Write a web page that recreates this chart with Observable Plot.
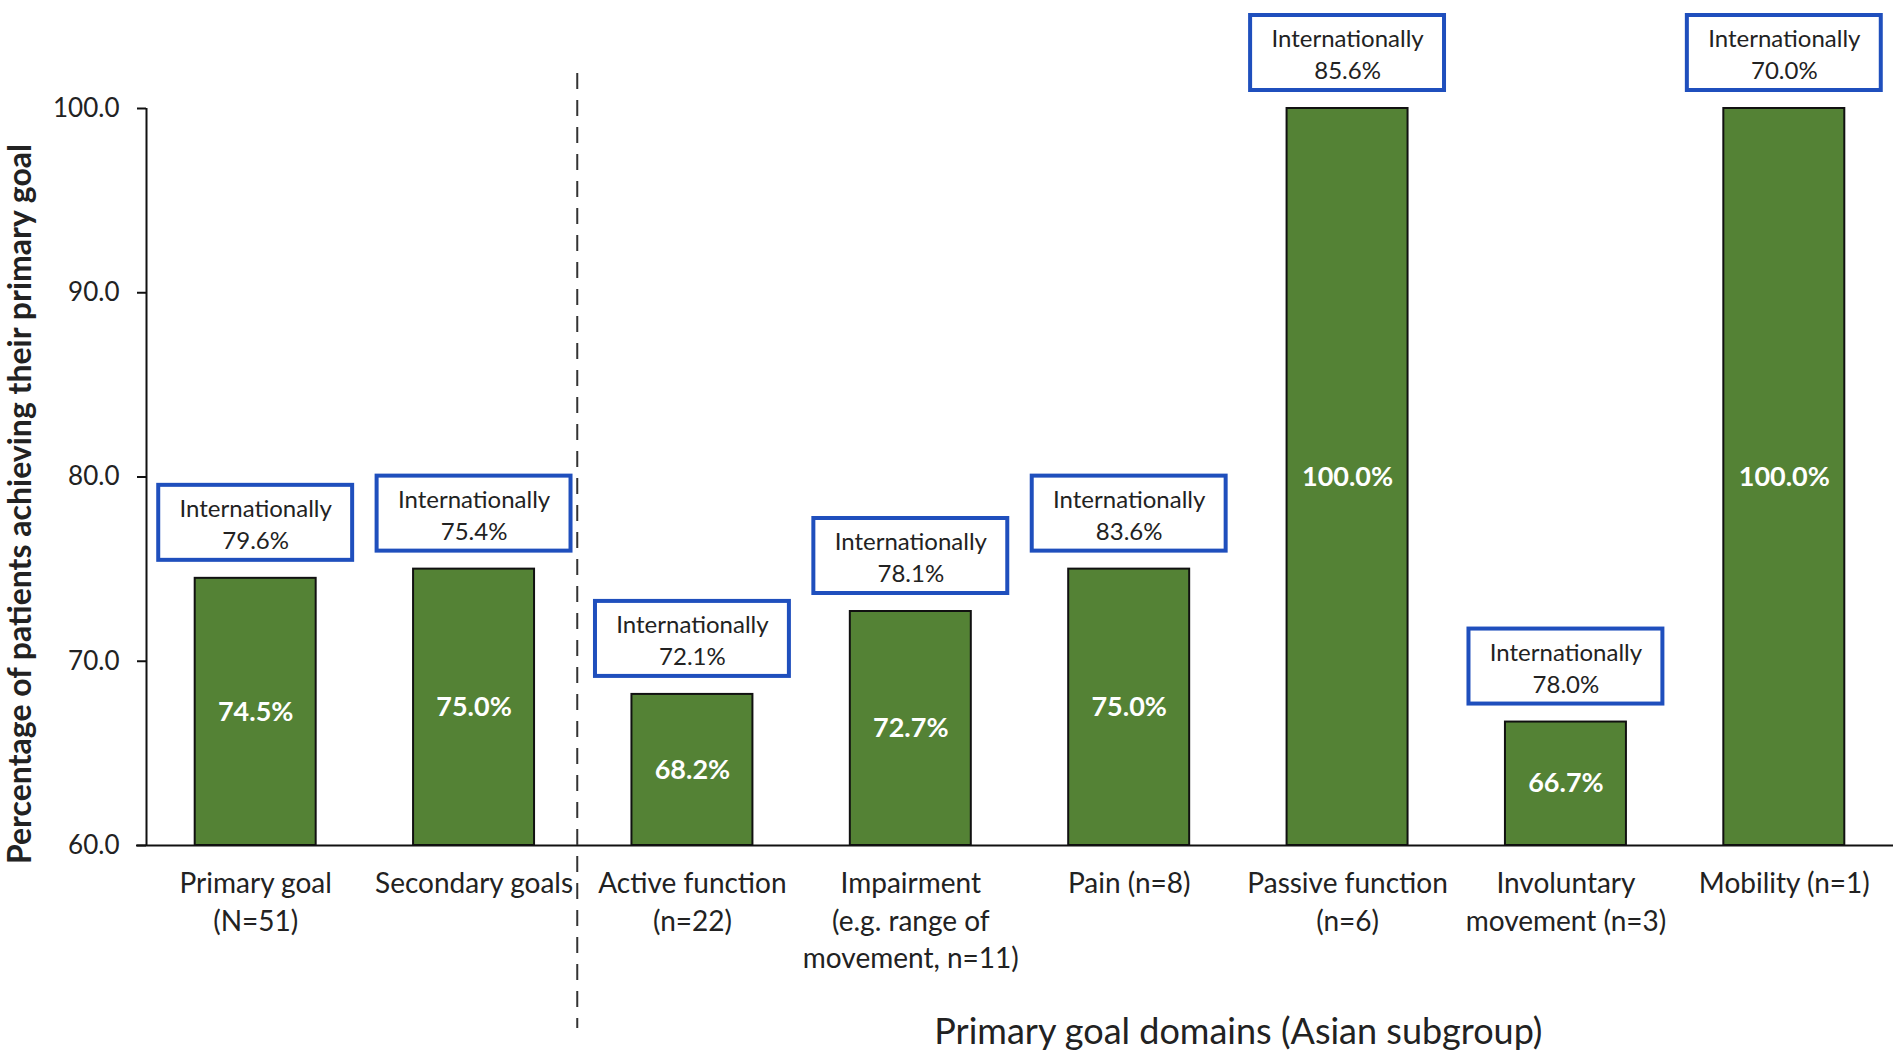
<!DOCTYPE html>
<html>
<head>
<meta charset="utf-8">
<script src="https://cdn.jsdelivr.net/npm/d3@7"></script>
<script src="https://cdn.jsdelivr.net/npm/@observablehq/plot@0.6"></script>
<style>
  html, body { margin: 0; padding: 0; background: #fff; overflow: hidden; }
  #chart svg { display: block; }
</style>
</head>
<body>
<div id="chart"></div>
<script>
// ---- data ----
const categories = [
  "Primary goal\n(N=51)",
  "Secondary goals",
  "Active function\n(n=22)",
  "Impairment\n(e.g. range of\nmovement, n=11)",
  "Pain (n=8)",
  "Passive function\n(n=6)",
  "Involuntary\nmovement (n=3)",
  "Mobility (n=1)"
];
const groups = ["Overall", "Overall", "Domain", "Domain", "Domain", "Domain", "Domain", "Domain"];
const asianValues = [74.5, 75.0, 68.2, 72.7, 75.0, 100.0, 66.7, 100.0];
const internationalValues = [79.6, 75.4, 72.1, 78.1, 83.6, 85.6, 78.0, 70.0];
const yTicks = [60, 70, 80, 90, 100];
const yTitle = "Percentage of patients achieving their primary goal";
const xTitle = "Primary goal domains (Asian subgroup)";

// ---- derived table ----
const rows = categories.map((c, i) => ({
  i, category: c, group: groups[i], value: asianValues[i], intl: internationalValues[i]
}));
const idx = rows.map(d => d.i);
const yBase = yTicks[0];
const domainIdx = rows.filter(d => d.group === "Domain").map(d => d.i);
const dividerAt = d3.min(domainIdx) - 0.5;
const titleX = d3.mean(domainIdx);

// ---- styles ----
const green = "#548235";
const blue = "#1f4fbd";
const ink = "#222";
const barHalf = 0.277;
const boxHalf = 0.444;
const boxH = 75, boxGap = 18;

const chart = Plot.plot({
  width: 1901,
  height: 1058,
  marginTop: 108,
  marginBottom: 213,
  marginLeft: 146,
  marginRight: 8,
  style: { fontFamily: "Lato, 'Open Sans', sans-serif", color: ink, background: "#fff" },
  x: { domain: [d3.min(idx) - 0.5, d3.max(idx) + 0.5] },
  y: { domain: [yBase, d3.max(yTicks)] },
  marks: [
    // bars
    Plot.rect(rows, {
      x1: d => d.i - barHalf, x2: d => d.i + barHalf,
      y1: yBase, y2: "value",
      fill: green, stroke: "#111", strokeWidth: 2
    }),
    // value labels inside bars
    Plot.text(rows, {
      x: "i", y: d => (yBase + d.value) / 2,
      text: d => d.value.toFixed(1) + "%",
      fill: "#fff", fontSize: 27, fontWeight: "bold"
    }),
    // "Internationally" boxes
    Plot.rect(rows, {
      x1: d => d.i - boxHalf, x2: d => d.i + boxHalf,
      y1: "value", y2: "value",
      insetTop: -(boxGap + boxH), insetBottom: boxGap,
      fill: "#fff", stroke: blue, strokeWidth: 4
    }),
    Plot.text(rows, {
      x: "i", y: "value",
      text: d => "Internationally\n" + d.intl.toFixed(1) + "%",
      dy: -(boxGap + boxH / 2),
      lineAnchor: "middle", lineHeight: 1.32,
      fontSize: 24, fill: ink
    }),
    // axes
    Plot.axisY({
      ticks: yTicks, tickFormat: d => d.toFixed(1),
      tickSize: 9, tickPadding: 18, fontSize: 26, strokeWidth: 2, stroke: "#111", label: null
    }),
    Plot.axisX({
      ticks: idx, tickFormat: i => categories[i],
      tickSize: 0, tickPadding: 21, fontSize: 28, lineHeight: 1.34, label: null
    }),
    Plot.ruleX([d3.min(idx) - 0.5], { stroke: "#111", strokeWidth: 2 }),
    Plot.ruleY([yBase], { stroke: "#111", strokeWidth: 2, insetLeft: -10 }),
    // divider between overall and domain groups
    Plot.ruleX([dividerAt], {
      stroke: "#333", strokeWidth: 2, strokeDasharray: "16,11",
      insetTop: -35, insetBottom: -183, dx: -6
    }),
    // titles
    Plot.text([xTitle], {
      x: titleX, frameAnchor: "bottom", dy: 198, text: d => d,
      fontSize: 36, fill: ink
    }),
    Plot.text([yTitle], {
      frameAnchor: "left", textAnchor: "middle", rotate: -90, dx: -126, dy: 27, text: d => d,
      fontSize: 32, fontWeight: "bold", fill: ink
    })
  ]
});
document.getElementById("chart").appendChild(chart);
</script>
</body>
</html>
